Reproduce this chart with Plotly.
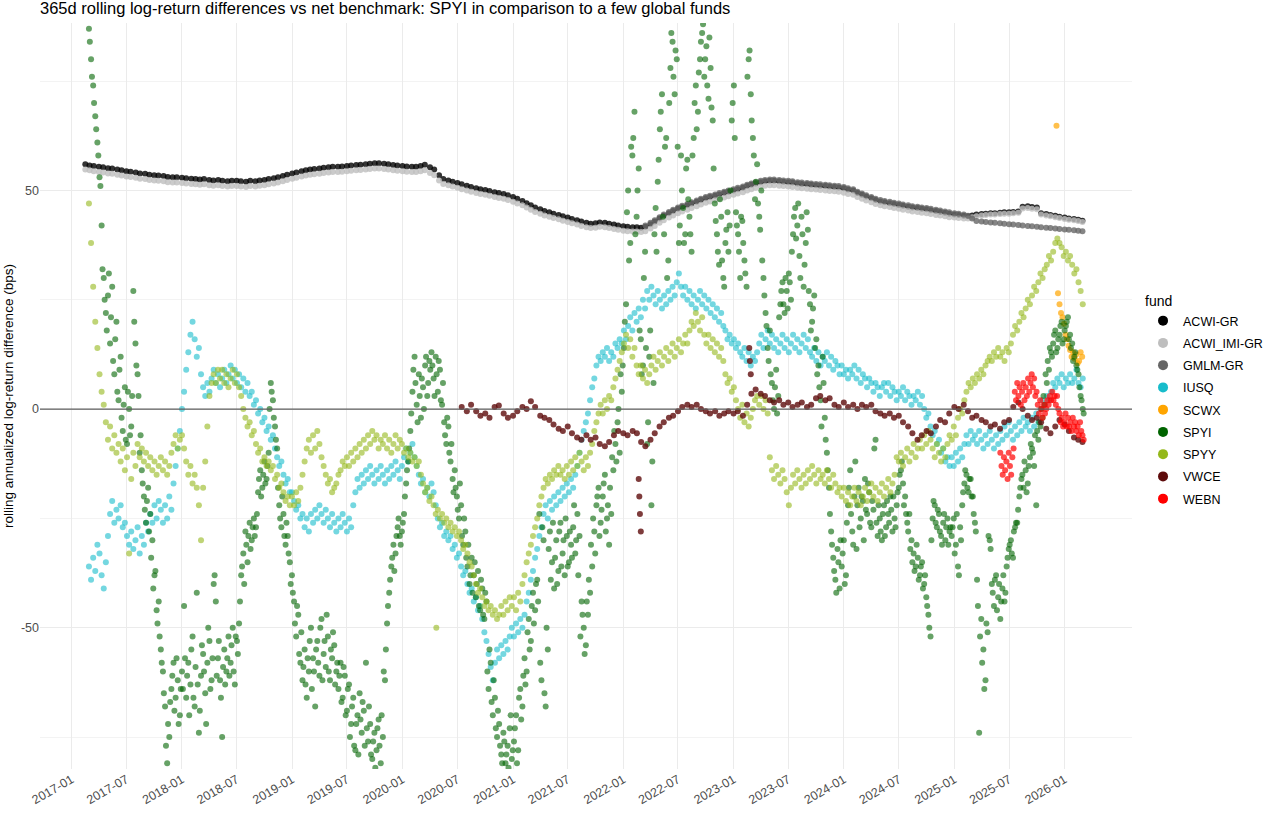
import pandas as pd
import plotly.graph_objects as go

title_text = "365d rolling log-return differences vs net benchmark: SPYI in comparison to a few global funds"
y_title = "rolling annualized log-return difference (bps)"

funds = ["ACWI-GR", "ACWI_IMI-GR", "GMLM-GR", "IUSQ", "SCWX", "SPYI", "SPYY", "VWCE", "WEBN"]
fund_colors = ["#000000", "#BEBEBE", "#666666", "#17BCCB", "#FFA500", "#006400", "#94B81A", "#5E0B0B", "#FF0000"]
# the index and VWCE bands are daily and very dense in the original, so they read darker
fund_alpha = [0.8, 0.8, 0.8, 0.6, 0.7, 0.6, 0.6, 0.8, 0.7]

# ---- weekly series (SPYI, IUSQ, SPYY), Mondays from 2017-02-27 ----
week_start = "2017-02-27"

spyi_2017 = [87, 80, 74, 67, 61, 53, 42, 30, 22, 26, 15, 28, 8, 20, 2, 12, -5, 5, -8, 0, -4, 27,
             15, 8, -10, -14, -20, -26, -18, -24, -30, -38, -46, -44, -55, -60, -68, -81, -75, -64,
             -58, -66, -62, -70]
spyi_2018 = [-60, -45, -66, -58, -63, -52, -68, -42, -74, -61, -56, -65, -58, -53, -62, -40, -44,
             -57, -62, -75, -55, -60, -52, -58, -50, -63, -53, -49, -38, -33, -28, -35, -26, -30,
             -25, -27, -19, -14, -18, -12, -16, -10, 6, 2, -4, -9, -22, -27, -24, -31, -29, -35]
spyi_2019 = [-38, -44, -52, -47, -58, -62, -55, -66, -60, -50, -57, -68, -53, -61, -48, -56, -59,
             -52, -62, -57, -54, -60, -64, -58, -66, -61, -69, -63, -72, -66, -78, -70, -65, -74,
             -69, -58, -76, -72, -80, -74, -78, -71, -81, -75, -62, -49, -42, -36, -31, -33, -27, -29]
spyi_2020 = [-28, -24, -17, -12, -5, 4, 12, 1, 8, -2, 5, 10, 3, 11, 13, 7, 12, 4, 9, 1, -3, -8, -4,
             -12, -16, -14, -20, -25, -22, -31, -28, -36, -40, -34, -38, -43, -37, -46, -41, -48,
             -44, -64, -58, -70, -66, -75, -72, -79, -74, -81, -77, -73]
spyi_2021 = [-80, -76, -70, -78, -64, -68, -57, -60, -48, -53, -42, -46, -39, -24, -62, -30, -68,
             -55, -28, -35, -41, -30, -37, -26, -33, -38, -29, -35, -31, -27, -33, -24, -29, -44,
             -50, -54, -47, -42, -36, -28, -22, -18, -26, -20, -15, -25, -31, -24, -14, -8, -3, -10]
spyi_2022 = [4, 14, 24, 50, 38, 58, 68, 44, 55, 16, 10, 36, -8, 12, -22, 6, 46, 52, 64, 72, 40, 62,
             34, 78, 84, 72, 80, 38, 58, 46, 40, 57, 44, 36, 62, 74, 68, 80, 86, 76, 83, 71, 78, 66,
             47, 40, 33, 44, 30, 38, 45, 42]
spyi_2023 = [66, 74, 45, 40, 30, 43, 34, 28, 80, 72, 62, 48, 56, 44, 50, 30, 22, 14, 18, 6, 0, 9, 3,
             24, 29, 22, 27, 31, 25, 40, 46, 42, 35, 44, 28, 38, 41, 24, 20, 26, 16, 10, 2, 12, -2,
             -10, -18, -28, -34, -39, -32, -41]
spyi_2024 = [-36, -30, -38, -22, -14, -28, -20, -32, -18, -25, -21, -16, -24, -19, -27, -23, -7, -29,
             -25, -30, -22, -27, -24, -20, -28, -25, -22, -18, -14, -17, -20, -26, -24, -30, -33,
             -36, -34, -38, -35, -40, -43, -47, -52, -25, -22, -27, -24, -29, -26, -30, -25, -28]
spyi_2025 = [-29, -25, -31, -36, -27, -22, -17, -15, -19, -16, -20, -26, -39, -74, -48, -55, -62,
             -51, -30, -40, -45, -38, -43, -48, -41, -44, -36, -32, -30, -34, -27, -26, -20, -16,
             -18, -14, -17, -11, -9, -13, -22, -7, -4, -2, 1, 6, 9, 13, 15, 18, 14, 17, 20, 16, 19,
             21, 17, 15, 12, 10, 8, 3, 0]

# SPYI again on the Thursdays (3 days after each Monday above)
spyi_thu_2017 = [84, 76, 70, 64, 58, 51, 32, 25, 18, 31, 21, 11, 16, 4, 9, -2, 1, -7, 4, -6, 3, 20,
                 10, 3, -6, -17, -23, -21, -28, -34, -41, -37, -49, -52, -58, -65, -77, -72, -67,
                 -61, -69, -57, -72, -64]
spyi_thu_2018 = [-64, -57, -61, -70, -55, -66, -59, -63, -69, -54, -60, -72, -50, -64, -57, -38,
                 -61, -53, -66, -59, -63, -57, -61, -54, -60, -52, -56, -44, -36, -40, -31, -29,
                 -32, -27, -29, -24, -16, -20, -15, -17, -13, 0, 4, -2, -7, -18, -25, -20, -29, -26,
                 -33, -40]
spyi_thu_2019 = [-42, -49, -45, -56, -51, -59, -63, -57, -53, -64, -60, -55, -58, -50, -62, -53,
                 -47, -60, -55, -51, -63, -58, -61, -67, -59, -70, -64, -75, -68, -77, -72, -79,
                 -71, -67, -77, -73, -68, -79, -76, -82, -73, -77, -70, -60, -55, -45, -39, -34,
                 -37, -29, -25, -31]
spyi_thu_2020 = [-26, -20, -14, -9, -1, 9, 6, -3, 3, 7, 0, 12, 6, 9, 10, 3, 8, 11, 2, 6, -6, -2,
                 -10, -8, -19, -18, -23, -17, -29, -25, -34, -31, -38, -42, -35, -40, -45, -39, -47,
                 -42, -60, -55, -67, -62, -73, -69, -77, -81, -76, -79, -82, -70]
spyi_thu_2021 = [-78, -73, -81, -66, -71, -61, -63, -51, -55, -45, -49, -40, -44, -58, -27, -65,
                 -50, -32, -39, -26, -34, -40, -28, -36, -30, -25, -36, -28, -34, -22, -30, -38,
                 -52, -47, -56, -44, -39, -31, -25, -33, -20, -29, -23, -17, -28, -22, -18, -11,
                 -5, -12, 0, 8]
spyi_thu_2022 = [10, 20, 45, 34, 60, 62, 40, 50, 18, 8, 30, 14, -3, 18, -12, 40, 36, 57, 68, 44, 60,
                 30, 70, 86, 76, 82, 60, 42, 50, 38, 55, 48, 40, 58, 70, 64, 77, 84, 88, 80, 74, 85,
                 69, 55, 43, 36, 48, 34, 28, 41, 36, 50]
spyi_thu_2023 = [70, 62, 42, 36, 44, 38, 31, 76, 82, 66, 58, 52, 47, 41, 34, 26, 19, 11, 8, 2, 5, -1,
                 21, 27, 24, 30, 23, 29, 36, 44, 39, 47, 30, 40, 33, 45, 27, 18, 23, 14, 8, 5, -4, 6,
                 -7, -14, -24, -31, -37, -42, -35, -30]
spyi_thu_2024 = [-33, -40, -26, -18, -24, -31, -12, -22, -27, -20, -30, -23, -17, -26, -21, -9, -26,
                 -22, -28, -24, -29, -21, -26, -23, -20, -27, -19, -15, -12, -22, -24, -28, -32,
                 -35, -37, -31, -39, -36, -41, -38, -45, -50, -30, -21, -26, -23, -28, -31, -24,
                 -27, -31, -27]
spyi_thu_2025 = [-27, -33, -24, -38, -30, -19, -14, -18, -16, -20, -24, -28, -45, -52, -58, -64,
                 -49, -29, -32, -42, -39, -46, -40, -44, -38, -42, -34, -31, -33, -28, -26, -23,
                 -18, -15, -12, -19, -13, -8, -10, -6, -5, -3, 0, 3, 8, 11, 14, 12, 17, 13, 16, 19,
                 15, 18, 20, 16, 14, 11, 13, 9, 5, 2, -1]

iusq_2017 = [-36, -39, -34, -37, -31, -33, -38, -41, -35, -29, -24, -21, -26, -23, -25, -22, -27,
             -26, -29, -31, -28, -32, -30, -27, -33, -29, -31, -26, -28, -24, -26, -22, -25, -21,
             -23, -26, -22, -25, -20, -23, -17, -13, -9, -5]
iusq_2018 = [0, 4, 9, 13, 17, 20, 16, 12, 14, 8, 5, 3, 6, 4, 7, 9, 6, 8, 5, 7, 9, 6, 8, 10, 7, 9, 6,
             8, 5, 7, 4, 6, 3, 4, 1, 2, -1, 0, -3, -2, -5, -4, -7, -6, -9, -11, -13, -12, -15, -17,
             -16, -19]
iusq_2019 = [-19, -21, -23, -22, -25, -24, -27, -25, -28, -24, -26, -23, -25, -22, -24, -26, -23,
             -25, -27, -24, -26, -28, -25, -27, -24, -26, -28, -25, -27, -22, -19, -16, -18, -15,
             -17, -14, -16, -13, -15, -17, -14, -16, -13, -15, -17, -14, -16, -13, -15, -12, -14, -16]
iusq_2020 = [-13, -11, -9, -12, -10, -8, -11, -13, -15, -17, -16, -19, -18, -20, -17, -19, -22, -25,
             -27, -26, -29, -28, -30, -29, -32, -31, -34, -33, -36, -38, -37, -40, -42, -41, -44,
             -43, -46, -45, -48, -51, -53, -56, -59, -62, -58, -55, -57, -54, -56, -53, -55, -52]
iusq_2021 = [-50, -52, -49, -51, -48, -50, -47, -44, -42, -39, -37, -34, -32, -29, -27, -24, -22,
             -25, -21, -23, -20, -22, -19, -21, -18, -20, -17, -19, -16, -18, -15, -13, -10, -7, -5,
             -3, -1, 2, 5, 7, 10, 12, 11, 13, 12, 14, 11, 13, 12, 15, 14, 16]
iusq_2022 = [15, 18, 16, 19, 21, 18, 22, 20, 23, 21, 25, 23, 27, 25, 28, 26, 24, 27, 25, 23, 26, 24,
             27, 25, 28, 26, 29, 31, 28, 26, 28, 25, 27, 24, 26, 23, 25, 27, 24, 26, 23, 25, 22, 24,
             21, 23, 20, 22, 19, 18, 16, 17]
iusq_2023 = [15, 16, 14, 15, 13, 12, 14, 11, 13, 10, 12, 11, 13, 15, 17, 14, 16, 18, 15, 17, 14, 16,
             13, 15, 17, 14, 16, 13, 15, 17, 14, 16, 13, 15, 17, 14, 16, 13, 12, 14, 11, 13, 10, 12,
             11, 13, 10, 12, 9, 11, 10, 8]
iusq_2024 = [10, 8, 9, 7, 9, 8, 10, 7, 9, 6, 8, 7, 5, 7, 6, 4, 6, 5, 3, 5, 6, 4, 6, 3, 5, 4, 2, 4, 3,
             5, 2, 4, 3, 1, 3, 2, 4, 1, 3, 0, -2, -1, -4, -6, -5, -8, -7, -10, -9, -12, -11, -13]
iusq_2025 = [-11, -13, -10, -12, -9, -11, -8, -6, -8, -5, -7, -6, -8, -5, -7, -9, -6, -8, -5, -7, -9,
             -6, -8, -5, -7, -4, -6, -3, -5, -7, -4, -6, -3, -5, -2, -4, -3, -5, -2, -4, -1, -3, 0,
             2, 1, 3, 2, 4, 6, 5, 7, 6, 8, 5, 7, 6, 8, 6, 7, 9, 6, 5, 7]

spyy_2017 = [47, 38, 28, 20, 14, 8, 4, 1, -3, -7, -4, -9, -6, -10, -8, -12, -9, -14, -11, -33, -16,
             -10, -13, -8, -11, -9, -12, -10, -13, -11, -14, -12, -15, -13, -11, -14, -12, -15, -13,
             -10, -8, -6, -9, -7]
spyy_2018 = [-6, -9, -12, -15, -13, -17, -15, -18, -22, -30, -18, -12, -4, 3, 6, 8, 6, 9, 7, 9, 6, 8,
             5, 7, 9, 6, 8, 5, 3, 0, -2, -4, -3, -6, -5, -8, -10, -9, -12, -11, -13, -12, -14, -13,
             -16, -15, -18, -17, -19, -21, -20, -22]
spyy_2019 = [-20, -22, -19, -21, -18, -15, -12, -9, -7, -10, -6, -9, -5, -8, -11, -13, -15, -17, -16,
             -19, -18, -17, -15, -14, -12, -13, -11, -13, -10, -12, -9, -11, -8, -10, -7, -9, -6, -8,
             -5, -7, -6, -9, -7, -8, -6, -9, -7, -10, -8, -6, -9, -7]
spyy_2020 = [-8, -10, -9, -11, -10, -12, -11, -13, -12, -15, -17, -19, -18, -21, -20, -22, -24, -23,
             -25, -24, -26, -25, -27, -26, -28, -27, -29, -28, -30, -32, -31, -33, -35, -36, -38,
             -40, -42, -41, -43, -45, -44, -46, -45, -47, -46, -48, -47, -45, -47, -44, -46, -43]
spyy_2021 = [-45, -43, -46, -42, -44, -40, -38, -35, -33, -31, -29, -27, -25, -22, -20, -18, -16,
             -17, -15, -16, -14, -15, -13, -15, -14, -16, -13, -15, -12, -14, -11, -13, -10, -12,
             -14, -11, -13, -10, -8, -5, -3, -1, 1, -1, 2, 0, 3, 2, 5, 7, 9, 11]
spyy_2022 = [13, 15, 17, 14, 16, 12, 14, 10, 8, 10, 7, 9, 6, 8, 10, 12, 9, 11, 13, 10, 12, 14, 11,
             13, 15, 12, 14, 16, 13, 15, 17, 15, 18, 20, 19, 22, 20, 18, 21, 17, 15, 17, 14, 16, 13,
             15, 12, 14, 11, 8, 6, 7]
spyy_2023 = [4, 5, 2, 0, -2, 1, -3, -1, -4, -2, 0, 2, 3, 1, 3, 0, 2, -1, -11, -14, -16, -13, -15,
             -17, -14, -16, -19, -22, -18, -15, -17, -14, -16, -18, -15, -17, -14, -16, -13, -15,
             -17, -14, -16, -15, -17, -14, -16, -18, -15, -17, -19, -18]
spyy_2024 = [-20, -18, -21, -19, -22, -20, -18, -21, -19, -22, -20, -18, -21, -19, -17, -20, -18,
             -21, -19, -17, -20, -18, -16, -19, -17, -15, -11, -12, -10, -13, -11, -9, -12, -10, -8,
             -11, -9, -7, -9, -6, -8, -5, -7, -9, -11, -8, -10, -12, -9, -11, -8, -6]
spyy_2025 = [-7, -4, -6, -2, 0, -1, 2, 4, 6, 5, 7, 6, 8, 7, 9, 8, 10, 11, 12, 11, 13, 12, 14, 12, 13,
             11, 14, 13, 15, 17, 19, 18, 20, 22, 21, 23, 25, 24, 26, 28, 27, 29, 31, 30, 32, 33, 35,
             34, 36, 38, 39, 38, 37, 35, 36, 34, 35, 33, 31, 32, 29, 27, 24]
spyy_extra_dates = ["2020-04-22"]
spyy_extra_vals = [-50]

spyi = (spyi_2017 + spyi_2018 + spyi_2019 + spyi_2020 + spyi_2021 + spyi_2022 + spyi_2023
        + spyi_2024 + spyi_2025)
spyi_thu = (spyi_thu_2017 + spyi_thu_2018 + spyi_thu_2019 + spyi_thu_2020 + spyi_thu_2021
            + spyi_thu_2022 + spyi_thu_2023 + spyi_thu_2024 + spyi_thu_2025)
iusq = (iusq_2017 + iusq_2018 + iusq_2019 + iusq_2020 + iusq_2021 + iusq_2022 + iusq_2023
        + iusq_2024 + iusq_2025)
spyy = (spyy_2017 + spyy_2018 + spyy_2019 + spyy_2020 + spyy_2021 + spyy_2022 + spyy_2023
        + spyy_2024 + spyy_2025)

# ---- benchmark indices, twice a month ----
index_start = "2017-02-15"
acwi_gr = [
    56.0, 55.7, 55.6, 55.4, 55.3, 55.1, 55.0, 54.8, 54.6, 54.4, 54.3, 54.1, 53.9, 53.8, 53.6, 53.5, 53.4, 53.3, 53.1, 53.0, 53.0, 52.9, 52.8, 52.7,
    52.6, 52.5, 52.6, 52.4, 52.3, 52.4, 52.2, 52.1, 52.2, 52.2, 52.1, 52.0, 52.2, 52.1, 52.3, 52.4, 52.6, 52.8, 53.0, 53.3, 53.6, 53.9, 54.1, 54.4,
    54.6, 54.8, 54.9, 55.0, 55.2, 55.3, 55.4, 55.4, 55.5, 55.6, 55.7, 55.8, 55.9, 56.0, 56.1, 56.2, 56.2, 56.1, 56.0, 55.8, 55.7, 55.6, 55.5, 55.4,
    55.4, 55.6, 55.9, 55.3, 54.8, 53.5, 52.6, 52.3, 52.0, 51.7, 51.4, 51.1, 50.8, 50.5, 50.3, 50.1, 49.9, 49.6, 49.4, 49.2, 48.9, 48.5, 48.1, 47.6,
    47.1, 46.6, 46.1, 45.7, 45.3, 45.0, 44.7, 44.4, 44.1, 43.8, 43.5, 43.2, 42.9, 42.6, 42.4, 42.5, 42.7, 42.6, 42.4, 42.2, 42.0, 41.8, 41.7, 41.6,
    41.6, 41.5, 41.7, 42.3, 42.9, 43.6, 44.2, 44.8, 45.3, 45.8, 46.2, 46.6, 47.0, 47.4, 47.8, 48.2, 48.5, 48.8, 49.1, 49.4, 49.7, 50.0, 50.3, 50.6,
    51.0, 51.3, 51.6, 51.9, 52.1, 52.2, 52.2, 52.1, 52.0, 51.9, 51.8, 51.6, 51.5, 51.4, 51.3, 51.2, 51.1, 51.0, 50.9, 50.8, 50.7, 50.5, 50.2, 50.0,
    49.4, 49.0, 48.6, 48.2, 47.8, 47.5, 47.3, 47.1, 46.9, 46.7, 46.5, 46.3, 46.1, 46.0, 45.8, 45.7, 45.5, 45.3, 45.1, 44.9, 44.7, 44.5, 44.4, 44.2,
    44.1, 44.3, 44.5, 44.6, 44.7, 44.8, 44.8, 44.9, 45.0, 45.0, 45.1, 45.2, 46.3, 46.4, 46.2, 46.1, 44.8, 44.6, 44.4, 44.2, 44.0, 43.8, 43.6, 43.5,
    43.3, 43.1,
]
acwi_imi_gr = [
    54.8, 54.6, 54.4, 54.2, 54.1, 53.9, 53.8, 53.6, 53.4, 53.2, 53.1, 52.9, 52.7, 52.6, 52.4, 52.3, 52.2, 52.1, 51.9, 51.8, 51.8, 51.7, 51.6, 51.5,
    51.4, 51.3, 51.4, 51.2, 51.1, 51.2, 51.0, 50.9, 51.0, 51.0, 50.9, 50.8, 51.0, 50.9, 51.1, 51.2, 51.4, 51.6, 51.8, 52.1, 52.4, 52.7, 52.9, 53.2,
    53.4, 53.6, 53.7, 53.8, 54.0, 54.1, 54.2, 54.2, 54.3, 54.4, 54.5, 54.6, 54.7, 54.8, 54.9, 55.0, 55.0, 54.9, 54.8, 54.6, 54.5, 54.4, 54.3, 54.2,
    54.2, 54.4, 54.6, 54.0, 53.5, 52.3, 51.5, 51.2, 50.9, 50.6, 50.3, 50.0, 49.7, 49.4, 49.2, 49.0, 48.8, 48.5, 48.3, 48.1, 47.8, 47.4, 47.0, 46.6,
    46.1, 45.6, 45.1, 44.7, 44.3, 44.0, 43.7, 43.4, 43.1, 42.8, 42.5, 42.2, 41.9, 41.6, 41.4, 41.5, 41.7, 41.6, 41.4, 41.2, 41.0, 40.8, 40.7, 40.6,
    40.6, 40.5, 40.7, 41.3, 41.9, 42.6, 43.2, 43.8, 44.3, 44.8, 45.2, 45.6, 46.0, 46.4, 46.8, 47.2, 47.5, 47.8, 48.1, 48.4, 48.7, 49.0, 49.3, 49.6,
    50.0, 50.3, 50.6, 50.9, 51.1, 51.2, 51.2, 51.1, 51.0, 50.9, 50.8, 50.6, 50.5, 50.4, 50.3, 50.2, 50.1, 50.0, 49.9, 49.8, 49.7, 49.5, 49.2, 49.0,
    48.5, 48.1, 47.7, 47.3, 46.9, 46.6, 46.4, 46.2, 46.0, 45.8, 45.6, 45.4, 45.2, 45.1, 44.9, 44.8, 44.6, 44.4, 44.3, 44.1, 43.9, 43.8, 43.7, 43.6,
    43.6, 43.9, 44.1, 44.3, 44.4, 44.5, 44.5, 44.6, 44.7, 44.7, 44.8, 44.9, 45.9, 46.0, 45.8, 45.7, 44.5, 44.3, 44.1, 43.9, 43.7, 43.5, 43.3, 43.2,
    43.0, 42.8,
]
gmlm_start = "2022-03-15"
gmlm_gr = [
    42.0, 42.6, 43.2, 43.9, 44.5, 45.1, 45.6, 46.1, 46.5, 46.9, 47.3, 47.7, 48.1, 48.5, 48.8, 49.1, 49.4, 49.7, 50.0, 50.3, 50.6, 50.9,
    51.3, 51.6, 51.9, 52.2, 52.4, 52.5, 52.5, 52.4, 52.3, 52.2, 52.1, 51.9, 51.8, 51.7, 51.6, 51.5, 51.4, 51.3, 51.2, 51.1, 51.0, 50.8, 50.5, 50.3,
    49.7, 49.3, 48.9, 48.5, 48.1, 47.8, 47.6, 47.4, 47.2, 47.0, 46.8, 46.6, 46.4, 46.3, 46.1, 46.0, 45.8, 45.6, 45.4, 45.2, 45.0, 44.8, 44.7, 44.5,
    44.2, 43.6, 43.0, 42.9, 42.8, 42.7, 42.6, 42.5, 42.4, 42.3, 42.2, 42.1, 42.0, 41.9, 41.8, 41.7, 41.6, 41.5, 41.4, 41.3, 41.2, 41.1, 41.0, 40.9,
    40.8, 40.7,
]

# ---- VWCE, twice a month from 2020-07-15 ----
vwce_start = "2020-07-15"
vwce = [
    0.5, -0.5, 1.0, -0.5, -1.5, -1.0, -2.0, 0.5, 0.8, -1.0, -2.0, -1.5,
    -0.5, 0.5, 0.0, 1.8, 0.5, -1.5, -2.0, -2.5, -3.5, -4.5, -5.0, -4.0, -5.5, -6.5, -7.0, -6.0, -7.0, -6.5, -8.0, -8.5, -7.5, -6.0, -5.0, -5.5,
    -6.0, -5.0, -5.5, -7.5, -8.5, -7.0, -5.5, -4.0, -3.0, -2.0, -1.5, -0.5, 0.5, 1.0, 0.5, 1.0, 0.0, -0.5, -1.0, -0.5, -1.5, -1.0, -0.5, -1.0,
    -0.5, -1.5, 1.0, 3.5, 4.5, 3.5, 3.0, 2.0, 1.5, 2.0, 1.0, 1.5, 0.5, 1.0, 1.5, 0.5, 1.0, 2.5, 3.0, 2.0, 2.5, 1.0, 0.5, 1.5,
    0.5, 1.0, 0.0, 1.0, 0.5, 1.0, -0.5, -1.0, -1.5, -1.0, -2.0, -1.5, -3.0, -4.0, -5.5, -7.0, -6.0, -5.0, -5.5, -4.0, -2.5, -3.0, -1.0, 0.5,
    0.0, 1.0, -0.5, -2.0, -1.5, -2.5, -3.0, -4.0, -3.5, -4.5, -3.0, -2.5, 0.5, 1.5, 0.0, -1.5, -2.5, -2.0, -3.0, -4.5, -5.5, -4.0, -2.5, -3.5,
    -5.0, -6.5, -7.0, -7.5,
]
vwce_extra_dates = ["2022-02-21", "2022-02-23", "2022-02-25", "2022-02-28",
                    "2023-02-22", "2023-02-24", "2023-02-27"]
vwce_extra_vals = [-16, -20, -24, -28, 14, 11, 8]

# ---- WEBN, every 4 days from 2025-06-02 ----
webn_start = "2025-06-02"
webn = [-10, -13, -15, -11, -14, -12, -16, -10, -13, -15, -11, -9,
        4, 2, 6, 3, 5, 1, 4, 6, 2,
        5, 3, 7, 4, 6, 8, 5, 7, 3, 4,
        1, -1, 2, 0, -2, 1, -1, 0,
        2, 1, 3, 2, 4, 2, 3, 1,
        3, 0, -1, -3, -2, -4, -3, -1, -4,
        -2, -4, -3, -5, -2, -4, -3, -5, -4, -6, -3, -5, -6, -7]

# ---- SCWX, every 5 days from 2025-12-05 ----
scwx_start = "2025-12-05"
scwx = [64.8, 26.5, 24.0, 22.0, 21.0, 19.5, 17.0, 16.0, 14.5, 13.5, 12.0, 13.0, 11.5, 12.5, 10.5,
        11.0, 13.0, 12.0]

# x tick labels every six months
tick_dates = pd.date_range("2017-01-01", "2026-01-01", freq="6MS")
tick_labels = [d.strftime("%Y-%m") for d in tick_dates]


def weekly(vals, start=week_start):
    return list(pd.date_range(start, periods=len(vals), freq="7D"))


def semi_monthly(start, vals):
    return list(pd.date_range(start, periods=len(vals), freq="SMS"))


series_x = {
    "ACWI-GR": semi_monthly(index_start, acwi_gr),
    "ACWI_IMI-GR": semi_monthly(index_start, acwi_imi_gr),
    "GMLM-GR": semi_monthly(gmlm_start, gmlm_gr),
    "IUSQ": weekly(iusq),
    "SCWX": list(pd.date_range(scwx_start, periods=len(scwx), freq="5D")),
    "SPYI": weekly(spyi) + weekly(spyi_thu, "2017-03-02"),
    "SPYY": weekly(spyy) + list(pd.to_datetime(spyy_extra_dates)),
    "VWCE": semi_monthly(vwce_start, vwce) + list(pd.to_datetime(vwce_extra_dates)),
    "WEBN": list(pd.date_range(webn_start, periods=len(webn), freq="4D")),
}
series_y = {
    "ACWI-GR": acwi_gr,
    "ACWI_IMI-GR": acwi_imi_gr,
    "GMLM-GR": gmlm_gr,
    "IUSQ": iusq,
    "SCWX": scwx,
    "SPYI": spyi + spyi_thu,
    "SPYY": spyy + spyy_extra_vals,
    "VWCE": vwce + vwce_extra_vals,
    "WEBN": webn,
}

fig = go.Figure()

for name, col, a in zip(funds, fund_colors, fund_alpha):
    fig.add_trace(go.Scatter(
        x=series_x[name], y=series_y[name], mode="markers", name=name,
        marker=dict(color=col, size=6, opacity=a, line=dict(width=0)),
        showlegend=False, hoverinfo="skip",
    ))

# legend keys drawn solid, like the ggplot guide
for name, col in zip(funds, fund_colors):
    fig.add_trace(go.Scatter(
        x=[None], y=[None], mode="markers", name=name, legendgroup=name,
        marker=dict(color=col, size=10),
    ))

font_family = "Liberation Sans, Arial, sans-serif"

fig.add_shape(type="line", xref="paper", x0=0, x1=1, yref="y", y0=0, y1=0,
              line=dict(color="#5E5E5E", width=1.3), layer="above")

fig.add_annotation(text=y_title, textangle=-90, xref="paper", yref="paper",
                   x=-0.0293, y=0.5, xanchor="center", yanchor="middle", showarrow=False,
                   font=dict(size=13.5, color="#000000", family=font_family))

fig.update_layout(
    width=1265, height=826,
    margin=dict(l=40, r=133, t=23, b=57, autoexpand=False),
    paper_bgcolor="white", plot_bgcolor="white",
    font=dict(family=font_family, color="#000000"),
    title=dict(text=title_text, x=40 / 1265, xanchor="left", xref="container",
               y=0.9900, yanchor="middle", yref="container",
               font=dict(size=16.5, color="#000000", family=font_family)),
    legend=dict(title=dict(text="fund", font=dict(size=14)), font=dict(size=12.5),
                x=1.0101, xanchor="left", y=0.645, yanchor="top",
                tracegroupgap=3, itemwidth=30, bgcolor="rgba(0,0,0,0)"),
    xaxis=dict(type="date", range=["2016-09-18", "2026-08-12"],
               tickvals=list(tick_dates), ticktext=tick_labels, tickangle=-30,
               tickfont=dict(size=12.5, color="#4D4D4D"),
               showgrid=True, gridcolor="#EBEBEB", gridwidth=1,
               zeroline=False, showline=False, ticks="", automargin=False),
    yaxis=dict(range=[-82.3, 88.3], tickvals=[-50, 0, 50], ticktext=["-50", "0", "50"],
               tickfont=dict(size=12.5, color="#4D4D4D"),
               showgrid=True, gridcolor="#EBEBEB", gridwidth=1,
               minor=dict(tickvals=[-75, -25, 25, 75], showgrid=True,
                          gridcolor="#F3F3F3", gridwidth=0.6),
               zeroline=False, showline=False, ticks="", automargin=False),
)

fig.write_html("out.html", config={"displayModeBar": False},
               post_script="document.body.style.margin='0';")
